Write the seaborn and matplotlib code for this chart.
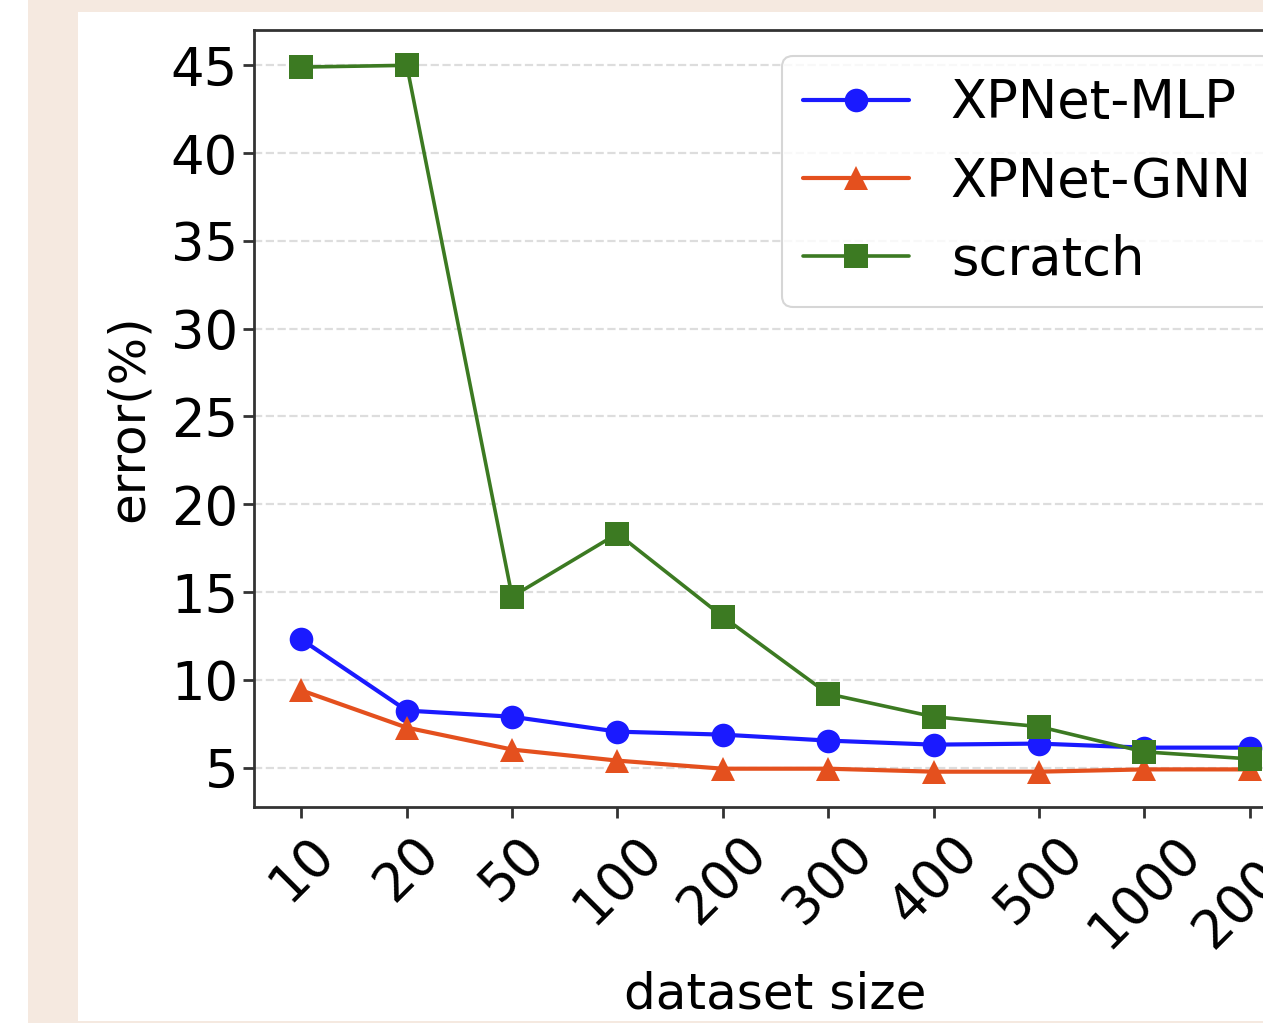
import matplotlib
matplotlib.use("Agg")
import matplotlib.pyplot as plt
import seaborn as sns
import numpy as np
from matplotlib.patches import Rectangle

sizes = ["10", "20", "50", "100", "200", "300", "400", "500", "1000", "2000"]
mlp = [12.3, 8.25, 7.9, 7.05, 6.88, 6.54, 6.31, 6.37, 6.14, 6.14]
gnn = [9.4, 7.28, 6.03, 5.4, 4.94, 4.94, 4.77, 4.77, 4.9, 4.9]
scratch = [44.9, 45.0, 14.74, 18.33, 13.6, 9.2, 7.9, 7.34, 5.9, 5.5]

series_names = ["XPNet-MLP", "XPNet-GNN", "scratch"]
series_vals = [mlp, gnn, scratch]
colors = ["#1a1aff", "#e4501e", "#3c7a22"]
markers = ["o", "^", "s"]
lws = [3.0, 3.0, 2.6]

sns.set_style("white")
plt.rcParams['font.family'] = ['DejaVu Sans']
plt.rcParams['text.color'] = 'black'
plt.rcParams['axes.labelcolor'] = 'black'
plt.rcParams['xtick.color'] = 'black'
plt.rcParams['ytick.color'] = 'black'

W, H = 1263, 1023
fig = plt.figure(figsize=(W / 100, H / 100), dpi=100)
fig.patch.set_facecolor("#f5e9e0")
# page-like white regions
fig.patches.append(Rectangle((0, 0), 28 / W, 1, transform=fig.transFigure,
                             facecolor="white", edgecolor="none", zorder=-10))
fig.patches.append(Rectangle((78 / W, 2 / H), (W - 78) / W, (1021 - 12) / H,
                             transform=fig.transFigure, facecolor="white",
                             edgecolor="none", zorder=-10))

ax_l, ax_r = 254 / W, 1297 / W
ax_b, ax_t = 1 - 807 / H, 1 - 30 / H
ax = fig.add_axes([ax_l, ax_b, ax_r - ax_l, ax_t - ax_b])
ax.patch.set_alpha(0)

pos = np.arange(len(sizes))
for name, vals, c, m, lw in zip(series_names, series_vals, colors, markers, lws):
    sns.lineplot(x=pos, y=vals, ax=ax, color=c, marker=m, markersize=17,
                 markeredgewidth=0, linewidth=lw, label=name)

ax.set_xticks(pos)
ax.set_xticklabels(sizes, rotation=45, ha="center")
ax.set_xlim(-0.45, len(sizes) - 1 + 0.45)
ax.set_yticks([5, 10, 15, 20, 25, 30, 35, 40, 45])
ax.tick_params(axis="both", labelsize=38, length=8, width=2, color="#333333",
               labelcolor="black", direction="out", bottom=True, left=True)
ax.tick_params(axis="x", pad=6)
ax.yaxis.grid(True, linestyle="--", color="#dddddd", linewidth=1.6)
ax.set_axisbelow(True)
for s in ax.spines.values():
    s.set_color("#333333")
    s.set_linewidth(2)

ax.set_xlabel("dataset size", fontsize=36, color="black", labelpad=9)
ax.set_ylabel("error(%)", fontsize=36, color="black", labelpad=13)

leg = ax.legend(loc="upper left", bbox_to_anchor=((782 - 254) / 1043, 1 - 26 / 777),
                borderaxespad=0, fontsize=38, frameon=True, fancybox=True,
                handlelength=2.0, labelspacing=0.5, handletextpad=0.8)
leg.get_frame().set_edgecolor("#cccccc")
leg.get_frame().set_linewidth(1.5)
for t in leg.get_texts():
    t.set_color("black")

fig.savefig("out.png", dpi=100)
